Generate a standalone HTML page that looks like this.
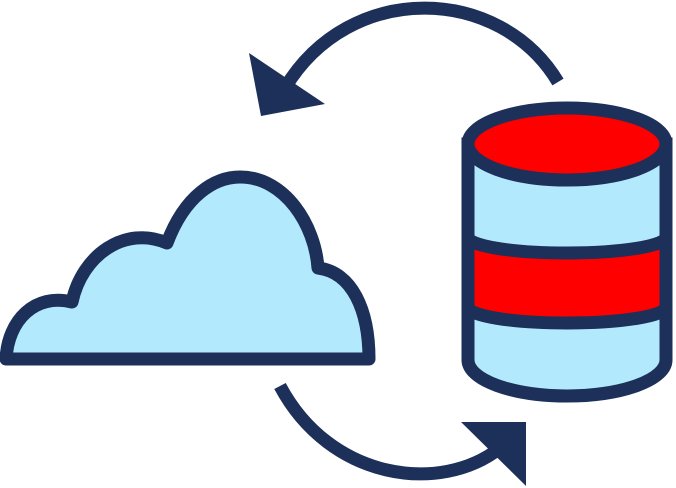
<!DOCTYPE html>
<html><head><meta charset="utf-8"><style>html,body{margin:0;padding:0;background:#fff;}svg{display:block}</style></head>
<body>
<svg width="676" height="488" viewBox="0 0 676 488" xmlns="http://www.w3.org/2000/svg">
<g stroke="#1c3059" stroke-width="13" fill="none">
<path d="M558,82 C500,-15 350,-20 285,88"/>
<path d="M280,386 C330,480 440,495 500,448"/>
</g>
<polygon points="249,53 261,116 325,104" fill="#1c3059"/>
<polygon points="461,422 526,422 526,486" fill="#1c3059"/>
<path d="M6,359 C8,320 35,293 72,302 C82,255 125,225 167,243 C185,195 215,177 240,177 C285,177 315,225 318,268 C352,272 369,310 369,359 Z" fill="#b3e9fd" stroke="#1c3059" stroke-width="13" stroke-linejoin="round"/>
<g stroke="#1c3059" stroke-width="13">
<path d="M468,144 L468,360 A99,36 0 0 0 666,360 L666,144 Z" fill="#b3e9fd"/>
<path d="M468,237 A99,16 0 0 0 666,237 L666,307 A99,16 0 0 1 468,307 Z" fill="#ff0000"/>
<ellipse cx="567" cy="144" rx="99" ry="36" fill="#ff0000"/>
</g>
</svg>
</body></html>
